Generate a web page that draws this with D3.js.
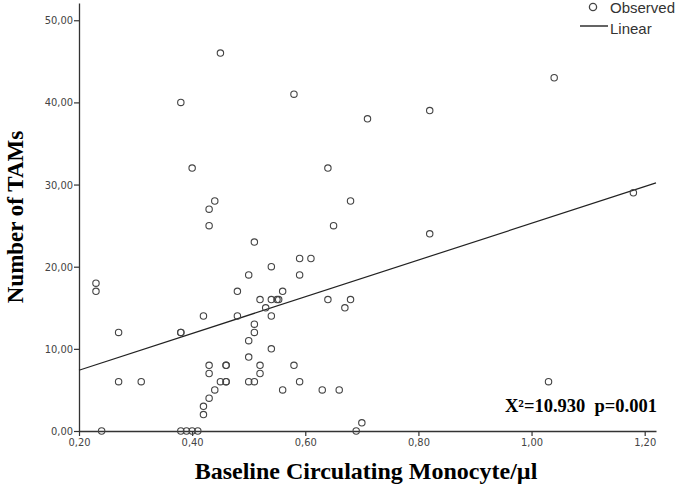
<!DOCTYPE html>
<html>
<head>
<meta charset="utf-8">
<script src="https://cdn.jsdelivr.net/npm/d3@7"></script>
<style>
  html, body { margin: 0; padding: 0; background: #fff; }
  svg { display: block; }
</style>
</head>
<body>
<svg id="chart" width="680" height="493"></svg>
<script>
// ---- data ----
const monocyte = [0.23,0.23,0.24,0.27,0.27,0.31,0.38,0.38,0.38,0.38,0.39,0.40,0.41,0.40,0.42,0.42,0.42,0.43,0.43,0.43,0.43,0.43,0.44,0.44,0.45,0.45,0.46,0.46,0.46,0.46,0.48,0.48,0.50,0.50,0.50,0.50,0.51,0.51,0.51,0.51,0.52,0.52,0.52,0.53,0.54,0.54,0.54,0.54,0.55,0.553,0.56,0.56,0.58,0.58,0.59,0.59,0.59,0.61,0.63,0.64,0.64,0.65,0.66,0.67,0.68,0.68,0.69,0.70,0.71,0.82,0.82,1.03,1.04,1.18];
const tams     = [18,17,0,12,6,6,40,12,12,0,0,0,0,32,14,3,2,27,25,8,7,4,28,5,46,6,8,8,6,6,17,14,19,11,9,6,23,13,12,6,16,8,7,15,20,16,14,10,16,16,17,5,41,8,21,19,6,21,5,32,16,25,5,15,28,16,0,1,38,39,24,6,43,29];
const fitX = [0.20, 1.22];
const fitY = [7.4, 30.2];
const xTicks = [0.2, 0.4, 0.6, 0.8, 1.0, 1.2];
const yTicks = [0, 10, 20, 30, 40, 50];
const legendLabels = ["Observed", "Linear"];
const statText = "X\u00B2=10.930  p=0.001";
const xTitle = "Baseline Circulating Monocyte/\u00B5l";
const yTitle = "Number of TAMs";

// ---- drawing ----
const svg = d3.select("#chart");
const x = d3.scaleLinear().domain([0.2, 1.22]).range([79, 656]);
const y = d3.scaleLinear().domain([0, 52.1]).range([431, 3]);
const fmt = v => d3.format(".2f")(v).replace(".", ",");
const tickFont = "'Liberation Sans Narrow','DejaVu Sans Condensed',Arial,sans-serif";
const axisColor = "#333";

const gx = svg.append("g").attr("transform", `translate(0,${y(0)})`)
  .call(d3.axisBottom(x).tickValues(xTicks).tickFormat(fmt).tickSize(5).tickSizeOuter(0));
const gy = svg.append("g").attr("transform", `translate(${x(0.2)},0)`)
  .call(d3.axisLeft(y).tickValues(yTicks).tickFormat(fmt).tickSize(5).tickSizeOuter(0));
[gx, gy].forEach(g => {
  g.select(".domain").attr("stroke", axisColor).attr("stroke-width", 1.3);
  g.selectAll(".tick line").attr("stroke", axisColor).attr("stroke-width", 1.2);
  g.selectAll(".tick text").attr("fill", "#444").style("font-family", tickFont).style("font-size", "11px");
});
gx.selectAll(".tick text").attr("dy", "0.9em").attr("y", 5);
gy.selectAll(".tick text").attr("x", -6);

// regression line
svg.append("line")
  .attr("x1", x(fitX[0])).attr("y1", y(fitY[0]))
  .attr("x2", x(fitX[1])).attr("y2", y(fitY[1]))
  .attr("stroke", "#222").attr("stroke-width", 1.2);

// points
svg.append("g").selectAll("circle")
  .data(monocyte.map((m, i) => [m, tams[i]]))
  .join("circle")
  .attr("cx", d => x(d[0])).attr("cy", d => y(d[1]))
  .attr("r", 3.2)
  .attr("fill", "none").attr("stroke", "#444").attr("stroke-width", 1.1);

// titles
svg.append("text")
  .attr("x", 366).attr("y", 479)
  .attr("text-anchor", "middle")
  .style("font-family", "'Liberation Serif','Times New Roman',serif")
  .style("font-weight", "bold").style("font-size", "24px")
  .text(xTitle);
svg.append("text")
  .attr("transform", "translate(23,217) rotate(-90)")
  .attr("text-anchor", "middle")
  .style("font-family", "'Liberation Serif','Times New Roman',serif")
  .style("font-weight", "bold").style("font-size", "23px")
  .text(yTitle);

// statistic annotation
svg.append("text")
  .attr("x", 657).attr("y", 412)
  .attr("text-anchor", "end")
  .attr("xml:space", "preserve")
  .style("white-space", "pre")
  .style("font-family", "'Liberation Serif','Times New Roman',serif")
  .style("font-weight", "bold").style("font-size", "18.5px")
  .text(statText);

// legend
const lg = svg.append("g");
lg.append("circle").attr("cx", 593).attr("cy", 7).attr("r", 3.6)
  .attr("fill", "none").attr("stroke", "#444").attr("stroke-width", 1.3);
lg.append("line").attr("x1", 580).attr("x2", 608).attr("y1", 26).attr("y2", 26)
  .attr("stroke", "#222").attr("stroke-width", 1.4);
lg.selectAll("text").data(legendLabels).join("text")
  .attr("x", 610).attr("y", (d, i) => 12.5 + i * 21)
  .attr("fill", "#333")
  .style("font-family", "'Liberation Sans',Arial,sans-serif")
  .style("font-size", "15px")
  .text(d => d);
</script>
</body>
</html>
